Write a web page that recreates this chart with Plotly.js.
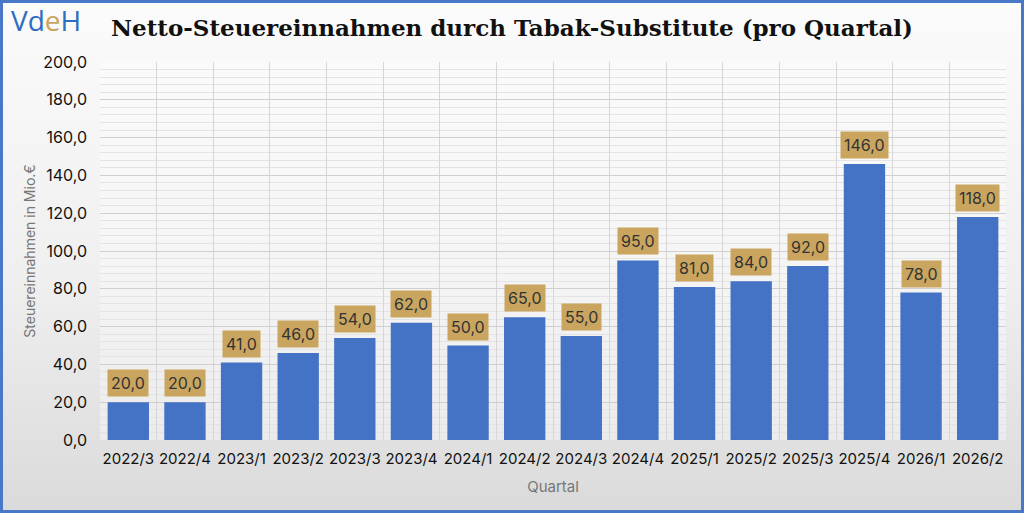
<!DOCTYPE html>
<html>
<head>
<meta charset="utf-8">
<script src="https://cdn.plot.ly/plotly-3.0.1.min.js"></script>
<style>
  html, body { margin: 0; padding: 0; }
  #wrap {
    position: relative;
    width: 1024px;
    height: 513px;
    background: linear-gradient(to bottom, #fbfbfb 0%, #efefef 55%, #dadada 100%);
  }
  #chart { position: absolute; left: 0; top: 0; width: 1024px; height: 513px; }
  #frame {
    position: absolute; left: 0; top: 0; width: 1024px; height: 513px;
    box-sizing: border-box; border: 3px solid #4a78c8; pointer-events: none;
  }
</style>
</head>
<body>
<div id="wrap">
  <div id="chart"></div>
  <div id="frame"></div>
</div>
<script>
const quarters = [
  "2022/3", "2022/4", "2023/1", "2023/2", "2023/3", "2023/4", "2024/1", "2024/2",
  "2024/3", "2024/4", "2025/1", "2025/2", "2025/3", "2025/4", "2026/1", "2026/2",
];
const revenue = [20, 20, 41, 46, 54, 62, 50, 65, 55, 95, 81, 84, 92, 146, 78, 118];
const yTicks = [0, 20, 40, 60, 80, 100, 120, 140, 160, 180, 200];

const fmt = (v) => v.toFixed(1).replace(".", ",");

const bars = {
  type: "bar",
  x: quarters,
  y: revenue,
  marker: { color: "#4472c4" },
  hoverinfo: "skip",
  showlegend: false,
};

const labels = quarters.map((q, i) => ({
  x: q,
  y: revenue[i],
  yanchor: "bottom",
  yshift: 5,
  text: fmt(revenue[i]),
  showarrow: false,
  bgcolor: "#c9a55f",
  borderpad: 3,
  font: { family: "Inter, 'Open Sans', sans-serif", size: 16, color: "#333333" },
}));

const logo = {
  xref: "paper", yref: "paper",
  x: -0.1, y: 1.11,
  xanchor: "left", yanchor: "middle",
  text: "<span style='color:#2e6cc0'>Vd</span><span style='color:#c9a55f'>e</span><span style='color:#2e6cc0'>H</span>",
  showarrow: false,
  font: { family: "'Open Sans', sans-serif", size: 28 },
};

const layout = {
  width: 1024,
  height: 513,
  margin: { l: 100, r: 18, t: 62, b: 73 },
  paper_bgcolor: "rgba(0,0,0,0)",
  plot_bgcolor: "rgba(255,255,255,0.35)",
  bargap: 0.27,
  separators: ",.",
  title: {
    text: "Netto-Steuereinnahmen durch Tabak-Substitute (pro Quartal)",
    font: { family: "'DejaVu Serif', serif", size: 23, color: "#111111", weight: 700 },
    x: 0.5, xanchor: "center",
    y: 0.945, yanchor: "middle",
  },
  xaxis: {
    type: "category",
    tickson: "boundaries",
    tickangle: 0,
    title: { text: "Quartal", font: { family: "Inter, sans-serif", size: 15, color: "#777777" }, standoff: 14 },
    tickfont: { family: "Inter, sans-serif", size: 15, color: "#111111" },
    ticklabelstandoff: 8,
    showgrid: true,
    gridcolor: "#d6d6d6",
    ticks: "",
    showline: false,
    zeroline: false,
  },
  yaxis: {
    range: [0, 200],
    tickvals: yTicks,
    ticktext: yTicks.map(fmt),
    title: { text: "Steuereinnahmen in Mio.€", font: { family: "Inter, sans-serif", size: 14, color: "#777777" }, standoff: 4 },
    tickfont: { family: "Inter, sans-serif", size: 16, color: "#111111" },
    ticklabelstandoff: 12,
    gridcolor: "#cfcfcf",
    minor: { dtick: 4, showgrid: true, gridcolor: "#e4e4e4" },
    zeroline: false,
    showline: false,
  },
  annotations: [...labels, logo],
};

Plotly.newPlot("chart", [bars], layout, { staticPlot: true });
</script>
</body>
</html>
